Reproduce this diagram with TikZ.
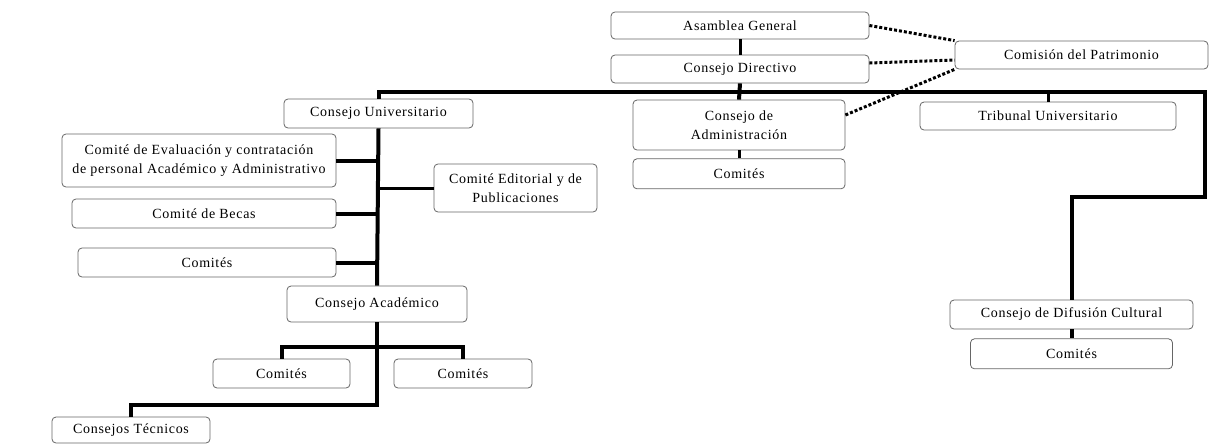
\documentclass[tikz,border=0pt]{standalone}
\usepackage{fontspec}
\setmainfont[LetterSpace=5]{Liberation Serif}
\usetikzlibrary{positioning}

\begin{document}
\begin{tikzpicture}[
      x=1pt, y=-1pt,
      orgbox/.style={
         rectangle,
         rounded corners=4pt,
         draw=black!60,
         line width=0.8pt,
         fill=white,
         inner sep=0pt,
         align=center,
         font=\fontsize{14}{19}\selectfont},
      mainline/.style={line width=4pt},
      linkline/.style={line width=3pt},
      dotline/.style={line width=3pt, dotted}
      ]
      \useasboundingbox (0,0) rectangle (1211,445);

      % top
      \node[orgbox,minimum width=258pt,minimum height=27pt] (asamblea) at (740,25.5) {Asamblea General};
      \node[orgbox,minimum width=258pt,minimum height=28pt] (directivo) at (740,69) {Consejo Directivo};
      \node[orgbox,minimum width=253pt,minimum height=28pt] (comision) at (1081.5,55) {Comisión del Patrimonio};

      % second level
      \node[orgbox,minimum width=189pt,minimum height=29pt] (cu) at (378.5,113.5) {Consejo Universitario};
      \node[orgbox,minimum width=212pt,minimum height=50pt] (admin) at (739,125) {Consejo de\\Administración};
      \node[orgbox,minimum width=212pt,minimum height=30pt,below=8pt of admin] (admincom) {Comités};
      \node[orgbox,minimum width=256pt,minimum height=28pt] (tribunal) at (1048,116) {Tribunal Universitario};

      % consejo universitario
      \node[orgbox,minimum width=274pt,minimum height=53pt] (eval) at (199,160.5) {Comité de Evaluación y contratación\\de personal Académico y Administrativo};
      \node[orgbox,minimum width=163pt,minimum height=48pt] (editorial) at (515.5,188) {Comité Editorial y de\\Publicaciones};
      \node[orgbox,minimum width=264pt,minimum height=29pt] (becas) at (204,213.5) {Comité de Becas};
      \node[orgbox,minimum width=258pt,minimum height=29pt] (comL) at (207,262.5) {Comités};

      % consejo academico
      \node[orgbox,minimum width=180pt,minimum height=36pt] (academico) at (377,304) {Consejo Académico};
      \node[orgbox,minimum width=137pt,minimum height=29pt] (comA) at (281.5,373.5) {Comités};
      \node[orgbox,minimum width=138pt,minimum height=29pt] (comB) at (463,373.5) {Comités};
      \node[orgbox,minimum width=158pt,minimum height=26pt] (tecnicos) at (131,430) {Consejos Técnicos};

      % difusion
      \node[orgbox,minimum width=243pt,minimum height=29pt] (difusion) at (1071.5,314.5) {Consejo de Difusión Cultural};
      \node[orgbox,minimum width=202pt,minimum height=30pt,below=9pt of difusion] (difcom) {Comités};

      \coordinate (bar) at (0,92);
      \coordinate (turn) at (1205,197);

      \draw[linkline] (asamblea.south) -- (directivo.north);
      \draw[mainline] (directivo.south) -- (admin.north);
      \draw[mainline] (cu.north) -- (cu.north |- bar) -- (bar -| turn) -- (turn)
                      -- (turn -| difusion.north) -- (difusion.north);
      \draw[linkline] (tribunal.north |- bar) -- (tribunal.north);
      \draw[linkline] (admin.south) -- (admincom.north);
      \draw[mainline] (difusion.south) -- (difcom.north);

      \draw[mainline] (cu.south) -- (academico.north);
      \foreach \b in {eval,becas,comL}
         \draw[mainline] (\b.east) -- (\b.east -| cu.south);
      \draw[linkline] (editorial.west) -- (editorial.west -| cu.south);

      \draw[mainline] (academico.south) -- (academico.south |- 0,405)
                      -- (tecnicos.north |- 0,405) -- (tecnicos.north);
      \draw[mainline] (comA.north) -- (comA.north |- 0,347)
                      -- (comB.north |- 0,347) -- (comB.north);

      % comision del patrimonio
      \draw[dotline] (asamblea.east) -- (comision.north west);
      \draw[dotline] ([yshift=6pt]directivo.east) -- ([yshift=-5pt]comision.west);
      \draw[dotline] ([yshift=10pt]admin.east) -- (comision.south west);
\end{tikzpicture}
\end{document}
